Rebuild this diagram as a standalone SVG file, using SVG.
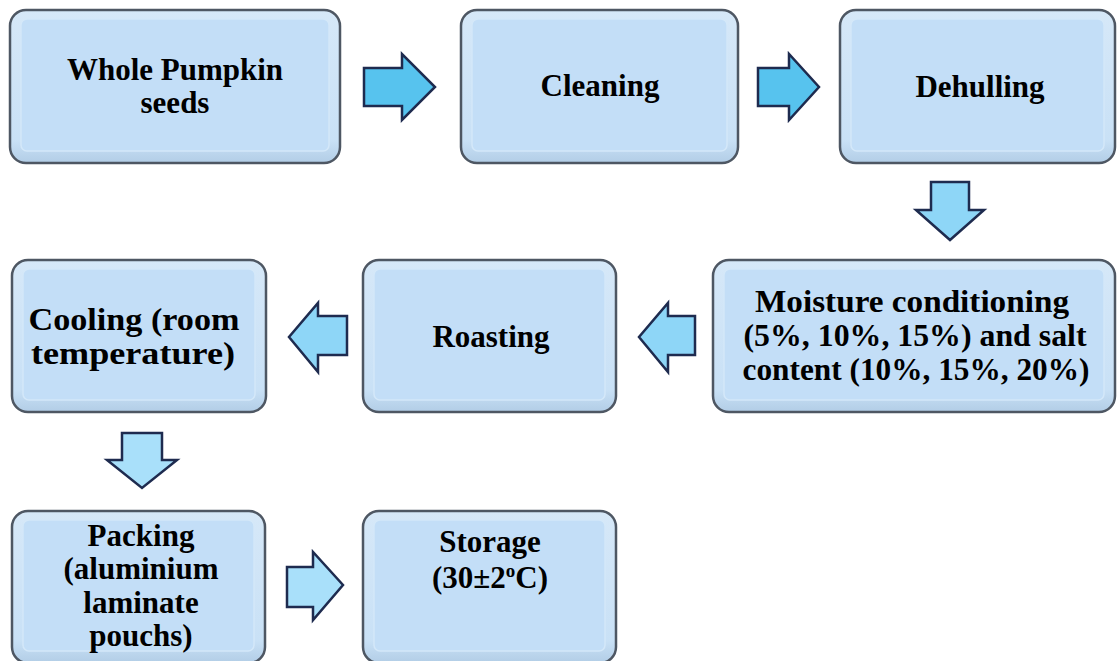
<svg xmlns="http://www.w3.org/2000/svg" width="1119" height="661" viewBox="0 0 1119 661">
<defs>
<linearGradient id="rim" x1="0" y1="0" x2="0" y2="1">
<stop offset="0" stop-color="#d6e8f8"/>
<stop offset="0.85" stop-color="#c9e1f6"/>
<stop offset="1" stop-color="#b2cde6"/>
</linearGradient>
<style>
.box{fill:url(#rim);stroke:#4e5763;stroke-width:2.5}
.inner{fill:#c3def7;stroke:#d4e8f9;stroke-width:1.5}
.t{font-family:"Liberation Serif","Times New Roman",serif;font-weight:bold;font-size:31px;fill:#000;text-anchor:middle}
.arr{stroke:#1e2b4f;stroke-width:2.5;stroke-linejoin:miter}
.a1{fill:#57c3ee}
.a2{fill:#8ed6f7}
.a3{fill:#a9e0fa}
</style>
</defs>
<rect width="1119" height="661" fill="#ffffff"/>
<g id="n1"><rect class="box" x="10" y="10" width="330" height="153" rx="16"/><rect class="inner" x="21" y="19" width="308" height="132" rx="6"/><text class="t" x="175" y="80">Whole Pumpkin</text><text class="t" x="175" y="113">seeds</text></g>
<g id="n2"><rect class="box" x="461" y="10" width="277" height="153" rx="16"/><rect class="inner" x="472" y="19" width="255" height="132" rx="6"/><text class="t" x="600" y="96">Cleaning</text></g>
<g id="n3"><rect class="box" x="840" y="10" width="275" height="153" rx="16"/><rect class="inner" x="851" y="19" width="253" height="132" rx="6"/><text class="t" x="980" y="97">Dehulling</text></g>
<g id="n4"><rect class="box" x="713" y="260" width="402" height="152" rx="16"/><rect class="inner" x="724" y="269" width="380" height="131" rx="6"/><text class="t" x="912" y="312" textLength="314" lengthAdjust="spacingAndGlyphs">Moisture conditioning</text><text class="t" x="915" y="346" textLength="343" lengthAdjust="spacingAndGlyphs">(5%, 10%, 15%) and salt</text><text class="t" x="916" y="380" textLength="347" lengthAdjust="spacingAndGlyphs">content (10%, 15%, 20%)</text></g>
<g id="n5"><rect class="box" x="363" y="260" width="253" height="152" rx="16"/><rect class="inner" x="374" y="269" width="231" height="131" rx="6"/><text class="t" x="491" y="347">Roasting</text></g>
<g id="n6"><rect class="box" x="12" y="260" width="254" height="152" rx="16"/><rect class="inner" x="23" y="269" width="232" height="131" rx="6"/><text class="t" x="134" y="330" textLength="211" lengthAdjust="spacingAndGlyphs">Cooling (room</text><text class="t" x="133" y="364" textLength="204" lengthAdjust="spacingAndGlyphs">temperature)</text></g>
<g id="n7"><rect class="box" x="12" y="511" width="253" height="152" rx="16"/><rect class="inner" x="23" y="520" width="231" height="131" rx="6"/><text class="t" x="141" y="546">Packing</text><text class="t" x="141" y="579">(aluminium</text><text class="t" x="141" y="613">laminate</text><text class="t" x="141" y="646">pouchs)</text></g>
<g id="n8"><rect class="box" x="363" y="511" width="253" height="152" rx="16"/><rect class="inner" x="374" y="520" width="231" height="131" rx="6"/><text class="t" x="490" y="552">Storage</text><text class="t" x="490" y="588">(30±2<tspan font-size="19" dy="-11">o</tspan><tspan dy="11">C)</tspan></text></g>
<g id="connectors">
<polygon class="arr a1" points="364,68 402,68 402,54 435,87 402,120 402,106 364,106"/>
<polygon class="arr a1" points="758,68 789,68 789,54 819,87 789,120 789,106 758,106"/>
<polygon class="arr a2" points="931,182 969,182 969,210 984,210 950,240 916,210 931,210"/>
<polygon class="arr a2" points="695,316 668,316 668,303 639,337 668,372 668,355 695,355"/>
<polygon class="arr a2" points="347,316 318,316 318,303 289,337 318,372 318,355 347,355"/>
<polygon class="arr a3" points="122,433 162,433 162,460 177,460 142,488 107,460 122,460"/>
<polygon class="arr a3" points="287,567 313,567 313,552 343,585 313,620 313,607 287,607"/>
</g>
</svg>
